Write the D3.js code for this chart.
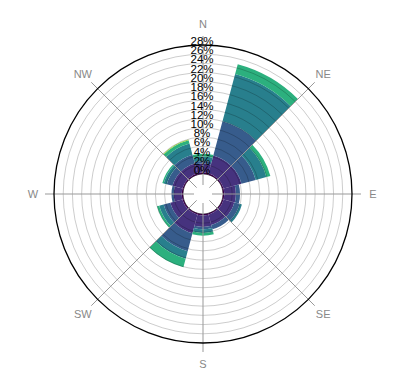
<!DOCTYPE html>
<html><head><meta charset="utf-8">
<script src="https://cdn.jsdelivr.net/npm/d3@7"></script>
<style>body{margin:0;background:#fff}svg{display:block}</style>
</head><body>
<svg id="chart" width="411" height="374"></svg>
<script>
// Direction sectors (degrees, clockwise from north)
const directions = ["0", "30", "60", "90", "120", "150", "180", "210", "240", "270", "300", "330"];
// Speed classes (stack order, inner to outer)
const speedClasses = ["calm", "bin1", "bin2", "bin3", "bin4", "bin5"];
// Frequency (%) per direction for each speed class
const calm = [0.3, 0.3, 0.3, 0.3, 0.3, 0.3, 0.3, 0.3, 0.3, 0.3, 0.3, 0.3];
const bin1 = [2.0, 4.0, 4.0, 2.5, 2.4, 2.3, 2.5, 4.2, 2.7, 1.7, 2.2, 2.2];
const bin2 = [0.5, 7.7, 3.2, 0.9, 1.2, 1.0, 0.5, 4.0, 1.5, 0.5, 1.3, 2.0];
const bin3 = [1.0, 10.6, 2.4, 0, 0.5, 0, 0.8, 1.7, 1.0, 0, 0.7, 2.5];
const bin4 = [0.6, 2.2, 0.9, 0, 0, 0, 0.6, 1.9, 0.5, 0, 0.3, 0.75];
const bin5 = [0, 0, 0, 0, 0, 0, 0, 0, 0, 0, 0, 0.15];
// Radial tick labels
const tickValues = [0, 2, 4, 6, 8, 10, 12, 14, 16, 18, 20, 22, 24, 26, 28];
// Compass labels
const compass = ["N", "NE", "E", "SE", "S", "SW", "W", "NW"];

const seriesValues = {calm, bin1, bin2, bin3, bin4, bin5};
const colors = ["#440154", "#46327e", "#375c8c", "#287f8d", "#2cb07e", "#9bd93c"];

const table = directions.map((dir, i) => {
  const row = {dir};
  speedClasses.forEach(k => row[k] = seriesValues[k][i]);
  return row;
});

const width = 411, height = 374, cx = 203, cy = 194;
const innerR = 20, outerR = 149;

const svg = d3.select("#chart");
const g = svg.append("g").attr("transform", `translate(${cx},${cy})`);

const x = d3.scaleBand()
  .domain(directions)
  .range([-Math.PI / 12, 2 * Math.PI - Math.PI / 12])
  .padding(0);
const y = d3.scaleLinear().domain([0, 28]).range([innerR, outerR]);
const color = d3.scaleOrdinal().domain(speedClasses).range(colors);

const stacked = d3.stack().keys(speedClasses)(table);

const arc = d3.arc()
  .innerRadius(d => y(d[0]))
  .outerRadius(d => y(d[1]))
  .startAngle(d => x(d.data.dir))
  .endAngle(d => x(d.data.dir) + x.bandwidth());

g.append("g").selectAll("g")
  .data(stacked)
  .join("g")
  .attr("fill", d => color(d.key))
  .selectAll("path")
  .data(d => d.filter(s => s[1] - s[0] > 0))
  .join("path")
  .attr("d", arc);

// grid circles (drawn over bars, translucent)
g.append("g").selectAll("circle")
  .data(tickValues.filter(t => t < 28))
  .join("circle")
  .attr("r", d => y(d))
  .attr("fill", "none")
  .attr("stroke", "#000")
  .attr("stroke-opacity", d => d === 0 ? 0.5 : 0.2)
  .attr("stroke-width", 1);

// axis spokes
const spokeAngles = compass.map((c, i) => i * Math.PI / 4);
g.append("g").selectAll("line")
  .data(spokeAngles)
  .join("line")
  .attr("x1", a => Math.sin(a) * 9)
  .attr("y1", a => -Math.cos(a) * 9)
  .attr("x2", a => Math.sin(a) * 158)
  .attr("y2", a => -Math.cos(a) * 158)
  .attr("stroke", "#999")
  .attr("stroke-width", 1);

// outer circle
g.append("circle")
  .attr("r", y(28))
  .attr("fill", "none")
  .attr("stroke", "#000")
  .attr("stroke-width", 1.3);

// compass labels
g.append("g").selectAll("text")
  .data(compass)
  .join("text")
  .attr("x", (d, i) => Math.sin(spokeAngles[i]) * 170)
  .attr("y", (d, i) => -Math.cos(spokeAngles[i]) * 170)
  .attr("text-anchor", "middle")
  .attr("dominant-baseline", "central")
  .attr("font-family", "Liberation Sans, Arial, sans-serif")
  .attr("font-size", 11)
  .attr("fill", "#888")
  .text(d => d);

// radial tick labels
g.append("g").selectAll("text")
  .data(tickValues)
  .join("text")
  .attr("x", -1)
  .attr("y", d => -y(d))
  .attr("text-anchor", "middle")
  .attr("font-family", "Liberation Sans, Arial, sans-serif")
  .attr("font-size", 11.5)
  .attr("fill", "#000")
  .text(d => d + "%");
</script>
</body></html>
